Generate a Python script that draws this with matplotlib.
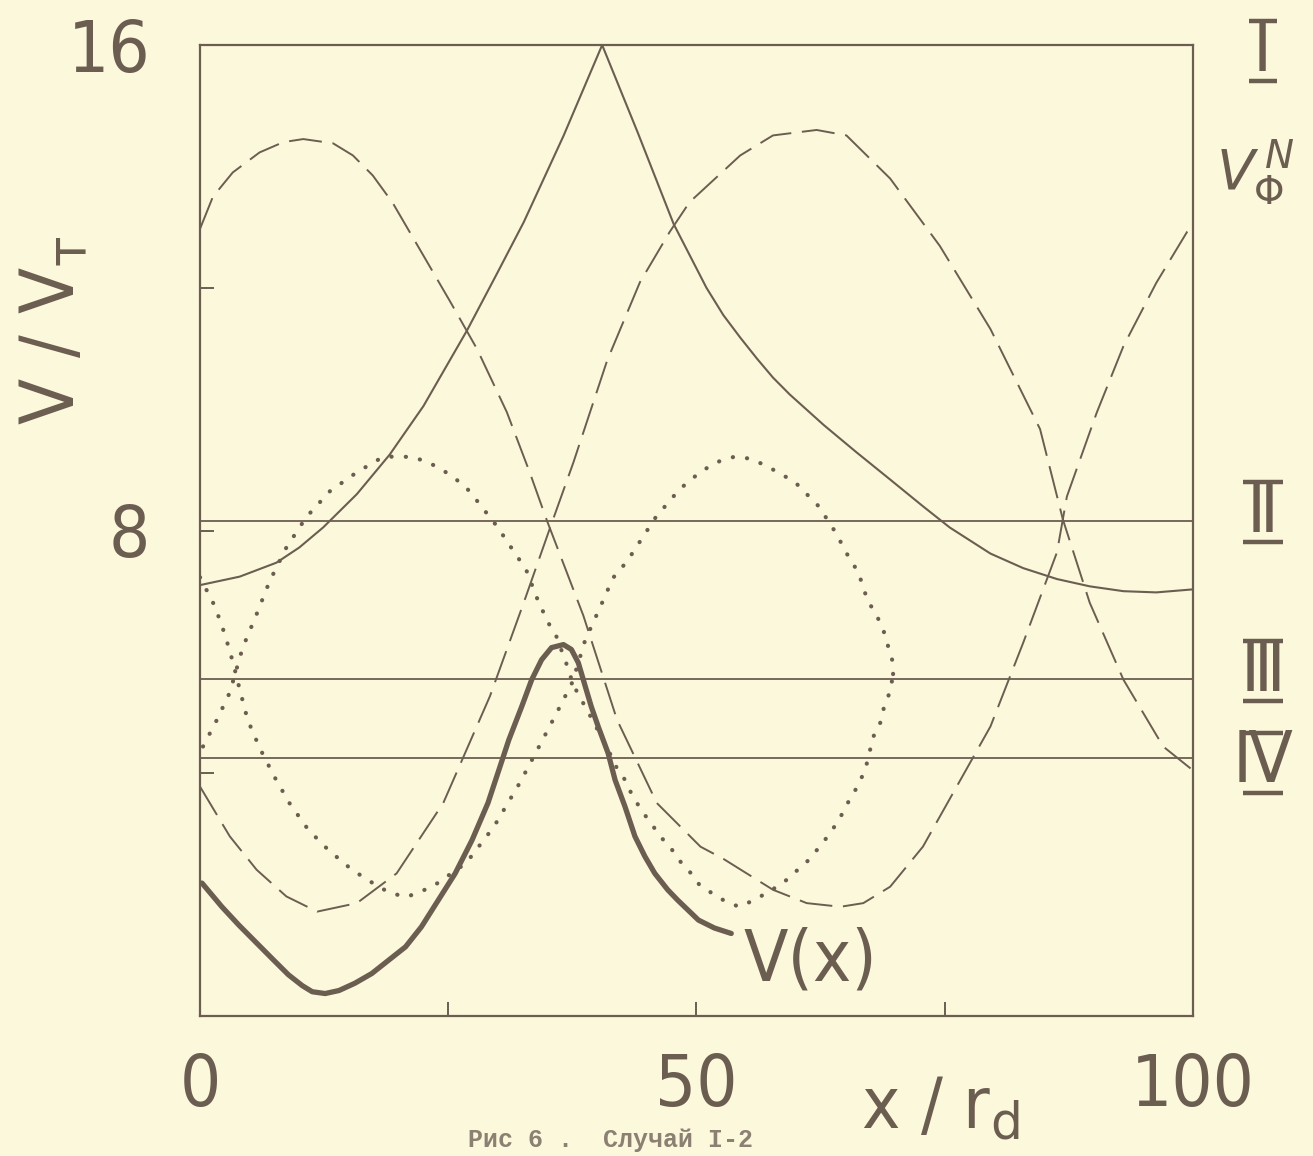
import numpy as np
import matplotlib.pyplot as plt
from matplotlib.lines import Line2D

# colours of the scanned page
bg = '#fcf8dc'
ink = '#6b5e51'

# thin solid curve V_phi^N for level I
phi_x = [0, 4, 7.7, 10, 12.4, 15.8, 19.1, 22.5, 26.9, 29.8, 32.6, 36.6, 40.5, 44.1, 47.7, 51.0, 52.7,
         54.4, 56.1, 57.7, 59.4, 62.8, 66.1, 69.5, 72.8, 75.5, 79.6, 82.9, 86.3, 89.6, 93.0, 96.3, 100]
phi_y = [7.1, 7.24, 7.47, 7.72, 8.05, 8.6, 9.25, 10.05, 11.3, 12.2, 13.08, 14.5, 16.0, 14.55, 13.05, 12.0,
         11.55, 11.18, 10.83, 10.52, 10.24, 9.74, 9.29, 8.84, 8.4, 8.05, 7.62, 7.38, 7.2, 7.08, 7.0, 6.98,
         7.03]

# dashed curves (level II)
dashA_x = [0, 1.3, 3.3, 6.0, 8.4, 10.4, 13.4, 15.4, 17.4, 19.4, 22.5, 25.2, 27.9, 30.9, 33.2, 34.9, 38.6,
           42.0, 46.0, 50.4, 52.7, 57.7, 61.1, 64.5, 66.8, 69.5, 72.8, 76.2, 79.6, 82.9, 86.3, 87.3, 90.3,
           93.0, 96.3, 99.4, 100]
dashA_y = [12.97, 13.5, 13.9, 14.23, 14.4, 14.45, 14.38, 14.18, 13.85, 13.4, 12.53, 11.77, 10.99, 9.95,
           8.96, 8.18, 6.6, 4.88, 3.51, 2.79, 2.59, 2.08, 1.86, 1.8, 1.86, 2.13, 2.79, 3.78, 4.77, 6.15,
           7.64, 8.56, 9.94, 11.04, 12.08, 12.92, 13.0]
dashB_x = [0, 3.0, 5.7, 8.7, 11.8, 15.8, 19.8, 24.5, 29.2, 32.6, 35.2, 37.6, 41.0, 44.3, 47.3, 49.3, 54.4,
           57.7, 62.1, 65.1, 69.5, 74.5, 79.6, 84.6, 86.9, 89.6, 93.0, 97.0, 99.9]
dashB_y = [3.78, 2.96, 2.41, 1.97, 1.72, 1.86, 2.35, 3.51, 5.27, 6.81, 8.02, 9.12, 10.8, 12.09, 12.92,
           13.41, 14.18, 14.51, 14.6, 14.51, 13.8, 12.69, 11.32, 9.67, 8.18, 6.81, 5.54, 4.44, 4.06]

# dotted curves (level III)
dot1_x = [0, 1.5, 2.5, 3.3, 4.0, 4.8, 6.0, 7.5, 9.0, 10.9, 12.9, 15.3, 17.5, 19.1, 20.8, 23.4, 26.8, 29.6,
          32.2, 34.5, 36.0, 37.5, 38.8, 40.2, 41.6, 43.0, 45.9, 48.3, 50.5, 52.3, 53.9, 55.5, 57.1, 59.9,
          62.3, 64.0, 65.3, 66.3, 67.2, 68.2, 68.8, 69.3, 69.7, 69.8]
dot1_y = [7.23, 6.75, 6.29, 5.84, 5.38, 4.88, 4.42, 3.94, 3.51, 3.07, 2.74, 2.41, 2.18, 2.03, 1.96, 2.13,
          2.52, 3.12, 3.84, 4.55, 5.02, 5.5, 6.2, 6.7, 7.22, 7.49, 8.22, 8.68, 8.98, 9.14, 9.22, 9.18, 9.06,
          8.8, 8.4, 7.97, 7.57, 7.31, 6.86, 6.58, 6.37, 6.09, 5.87, 5.63]
dot2_x = [0.3, 1.7, 3.0, 4.3, 5.7, 7.0, 8.7, 10.7, 13.1, 15.8, 18.4, 19.8, 21.4, 22.9, 24.3, 25.5, 26.8,
          27.8, 28.8, 30.0, 31.0, 32.0, 32.9, 33.9, 35.0, 35.9, 37.0, 37.5, 38.2, 38.8, 41.1, 41.9, 42.8,
          43.4, 44.4, 45.4, 46.4, 47.4, 48.4, 49.4, 50.3, 51.5, 53.0, 54.3, 55.8, 57.3, 58.7, 60.0, 61.3,
          62.3, 63.5, 64.5, 65.3, 66.2, 67.0, 67.8, 68.5, 68.9, 69.5, 69.8]
dot2_y = [4.44, 4.88, 5.33, 6.07, 6.62, 7.16, 7.72, 8.22, 8.65, 8.96, 9.21, 9.22, 9.21, 9.13, 9.01, 8.88,
          8.71, 8.51, 8.3, 8.05, 7.8, 7.56, 7.33, 6.9, 6.5, 6.25, 5.76, 5.5, 5.26, 5.1, 4.39, 4.11, 3.89,
          3.68, 3.4, 3.18, 2.95, 2.77, 2.54, 2.36, 2.16, 2.03, 1.88, 1.8, 1.91, 2.05, 2.19, 2.38, 2.57,
          2.77, 3.02, 3.28, 3.53, 3.78, 4.06, 4.6, 4.83, 5.1, 5.35, 5.63]

# potential V(x), thick line
v_x = [0.2, 2.2, 3.9, 5.6, 7.3, 8.9, 10.3, 11.3, 12.6, 14.0, 15.6, 17.3, 19.0, 20.7, 22.3, 24.0, 25.7,
       27.4, 29.0, 31.1, 32.4, 33.4, 34.4, 35.4, 36.6, 37.4, 38.1, 38.8, 39.4, 40.1, 41.1, 41.8, 42.8,
       43.8, 44.8, 45.8, 47.1, 48.1, 50.2, 51.8, 53.5]
v_y = [2.19, 1.8, 1.5, 1.22, 0.94, 0.68, 0.5, 0.4, 0.37, 0.42, 0.54, 0.7, 0.92, 1.14, 1.47, 1.91,
       2.35, 2.9, 3.51, 4.55, 5.1, 5.54, 5.87, 6.07, 6.12, 6.04, 5.82, 5.43, 5.1, 4.77, 4.33, 3.89, 3.45,
       2.96, 2.63, 2.35, 2.08, 1.91, 1.58, 1.45, 1.36]

# energy levels
levels = [16, 8.15, 5.55, 4.25]
level_names = ['Ⅰ', 'Ⅱ', 'Ⅲ', 'Ⅳ']
level_label_y = [15.9, 8.3, 5.68, 4.17]

xticks = [0, 25, 50, 75, 100]
xticklabels = ['0', '', '50', '', '100']
yticks = [0, 4, 8, 12, 16]
yticklabels = ['', '', '8', '', '16']

narrow = ['Liberation Sans Narrow', 'DejaVu Sans']

W, H = 1313, 1156
fig = plt.figure(figsize=(W/100, H/100), dpi=100, facecolor=bg)
ax = fig.add_axes([200/W, 1-1016/H, 993/W, 971/H])
ax.set_facecolor(bg)
ax.set_xlim(0, 100)
ax.set_ylim(0, 16)

for lv in levels:
    ax.axhline(lv, color=ink, lw=1.3)

ax.plot(phi_x, phi_y, color=ink, lw=1.5)
ax.plot(dashA_x, dashA_y, color=ink, lw=1.4, ls=(0, (17, 5.5)))
ax.plot(dashB_x, dashB_y, color=ink, lw=1.4, ls=(0, (17, 5.5)))
ax.plot(dot1_x, dot1_y, color=ink, lw=3.0, ls=(0, (0.05, 3.4)), dash_capstyle='round')
ax.plot(dot2_x, dot2_y, color=ink, lw=3.0, ls=(0, (0.05, 3.4)), dash_capstyle='round')
ax.plot(v_x, v_y, color=ink, lw=3.8, solid_capstyle='round')

for sp in ax.spines.values():
    sp.set_color(ink)
    sp.set_linewidth(1.6)

ax.set_xticks(xticks, xticklabels)
ax.set_yticks(yticks, yticklabels)
ax.tick_params(direction='in', length=10, width=1.4, color=ink, labelcolor=ink, labelsize=52)
ax.tick_params(axis='x', pad=26)
ax.tick_params(axis='y', pad=36)
for lab in ax.get_xticklabels() + ax.get_yticklabels():
    lab.set_family(narrow)
    lab.set_stretch('condensed')

ax.text(61.5, 0.9, 'V(x)', color=ink, fontsize=52, ha='center', va='center', family=narrow,
        stretch='condensed')

# roman numerals of the levels, with bars above and below like the plotter letters
for name, ly in zip(level_names, level_label_y):
    ax.text(107.0, ly, name, color=ink, fontsize=52, ha='center', va='center', clip_on=False,
            family=narrow, stretch='condensed')
    xc, yc = ax.transData.transform((107.0, ly))
    half_w = 14 if name == 'Ⅰ' else 20
    for dy in (-30, 30):
        fig.add_artist(Line2D([(xc - half_w)/W, (xc + half_w)/W], [(yc + dy)/H, (yc + dy)/H],
                              color=ink, lw=3.2, solid_capstyle='butt'))

ax.text(106.3, 13.9, r'$V_{\Phi}^{\,N}$', color=ink, fontsize=40, ha='center', va='center', clip_on=False)

fig.text(55/W, 1-330/H, r'V / V$_\mathsf{т}$', color=ink, fontsize=54, rotation=90,
         ha='center', va='center', family=narrow, stretch='condensed')
fig.text(940/W, 1-1108/H, r'x / r$_\mathsf{d}$', color=ink, fontsize=52, ha='center', va='center',
         family=narrow, stretch='condensed')
fig.text(610/W, 1-1128/H, 'Рис 6 .  Случай I-2', color='#8b8072', fontsize=18, ha='center', va='top',
         family='Liberation Mono', fontweight='bold')

fig.savefig('out.png', dpi=100, facecolor=bg)
